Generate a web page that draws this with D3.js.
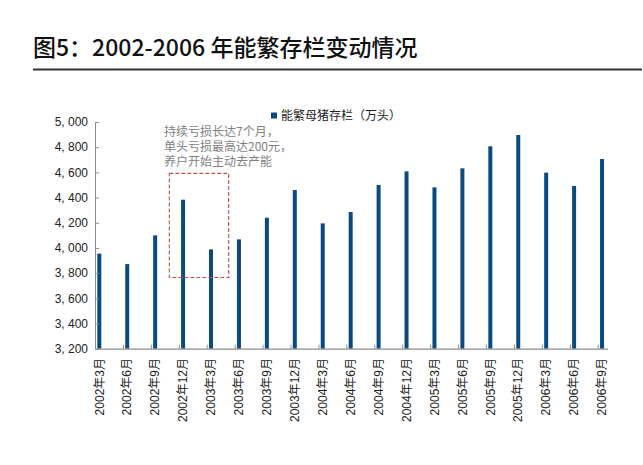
<!DOCTYPE html>
<html><head><meta charset="utf-8">
<script src="https://cdn.jsdelivr.net/npm/d3@7"></script>
<style>
html,body{margin:0;padding:0;background:#fff;}
svg{display:block;}
</style>
</head><body>
<svg id="c" width="643" height="465"></svg>
<script>
const categories = ["2002年3月","2002年6月","2002年9月","2002年12月","2003年3月","2003年6月","2003年9月","2003年12月","2004年3月","2004年6月","2004年9月","2004年12月","2005年3月","2005年6月","2005年9月","2005年12月","2006年3月","2006年6月","2006年9月"];
const sowStock = [3955,3872,4100,4383,3989,4068,4240,4460,4195,4285,4500,4608,4481,4632,4807,4897,4598,4492,4706];
const yTicks = [3200,3400,3600,3800,4000,4200,4400,4600,4800,5000];
const seriesName = "能繁母猪存栏（万头）";
const titleText = "图5：2002-2006 年能繁存栏变动情况";
const noteLines = ["持续亏损长达7个月，","单头亏损最高达200元，","养户开始主动去产能"];
const noteRange = {from:"2002年12月", to:"2003年3月", low:3765, high:4592};

const svg = d3.select("#c");
const barColor = "#0b4a80";
const axisColor = "#8c8c8c";
const font = "'Liberation Sans','Noto Sans CJK SC',sans-serif";

// title
svg.append("text").attr("x",33).attr("y",56)
  .attr("font-family","'Noto Sans CJK SC',sans-serif").attr("font-size",23).attr("font-weight",500)
  .attr("fill","#111").text(titleText);
svg.append("line").attr("x1",33).attr("x2",642).attr("y1",69.5).attr("y2",69.5)
  .attr("stroke","#333").attr("stroke-width",2);

const x = d3.scaleBand().domain(categories).range([95, 95 + 27.93*categories.length]).paddingInner(0).paddingOuter(0);
const y = d3.scaleLinear().domain([3200,5000]).range([348.7,122]);
const barW = 4;
const barOff = 2.3;

// bars
svg.append("g").selectAll("rect").data(sowStock).join("rect")
  .attr("x",(d,i)=>x(categories[i])+barOff)
  .attr("width",barW)
  .attr("y",d=>y(d))
  .attr("height",d=>y(3200)-y(d))
  .attr("fill",barColor);

// y axis
const yAxis = d3.axisRight(y).tickValues(yTicks).tickSize(4).tickFormat("");
const gy = svg.append("g").attr("transform","translate(95,0)").call(yAxis);
gy.select(".domain").attr("stroke",axisColor).attr("d",`M0.5,${y(5000)}V${y(3200)}`);
gy.selectAll(".tick line").attr("stroke",axisColor);
svg.append("g").selectAll("text").data(yTicks).join("text")
  .attr("x",88).attr("y",d=>y(d)).attr("dy","0.35em")
  .attr("text-anchor","end").attr("font-family",font).attr("font-size",12).attr("fill","#222")
  .text(d=>d3.format(",")(d).replace(",", ", "));

// x axis
const xEnd = 608;
svg.append("line").attr("x1",95).attr("x2",xEnd).attr("y1",y(3200)+0.5).attr("y2",y(3200)+0.5)
  .attr("stroke",axisColor).attr("stroke-width",1.2);
svg.append("g").selectAll("line").data(categories.slice(1)).join("line")
  .attr("x1",d=>x(d)+0.5).attr("x2",d=>x(d)+0.5)
  .attr("y1",y(3200)).attr("y2",y(3200)-4)
  .attr("stroke",axisColor);
svg.append("g").selectAll("text").data(categories).join("text")
  .attr("transform",d=>`translate(${x(d)+barOff+barW/2},358) rotate(-90)`)
  .attr("text-anchor","end").attr("dy","0.35em")
  .attr("font-family",font).attr("font-size",12).attr("fill","#222")
  .text(d=>d);

// legend
svg.append("rect").attr("x",271).attr("y",112.5).attr("width",6).attr("height",6).attr("fill",barColor);
svg.append("text").attr("x",281).attr("y",116).attr("dy","0.35em")
  .attr("font-family","'Noto Sans CJK SC',sans-serif").attr("font-size",12).attr("fill","#222")
  .text(seriesName);

// annotation (one text block with lines as tspans)
const note = svg.append("text")
  .attr("font-family","'Noto Sans CJK SC',sans-serif").attr("font-size",12).attr("fill","#7f7f7f");
note.selectAll("tspan").data(noteLines).join("tspan")
  .attr("x",164).attr("y",(d,i)=>131.7+i*14.8).attr("dy","0.35em")
  .text(d=>d);
const bx0 = x(noteRange.from) - 9.5;
const bx1 = x(noteRange.to) + 22;
svg.append("rect").attr("x",bx0).attr("y",y(noteRange.high))
  .attr("width",bx1-bx0).attr("height",y(noteRange.low)-y(noteRange.high))
  .attr("fill","none").attr("stroke","#c0504d").attr("stroke-width",1.1)
  .attr("stroke-dasharray","4,2");
</script>
</body></html>
